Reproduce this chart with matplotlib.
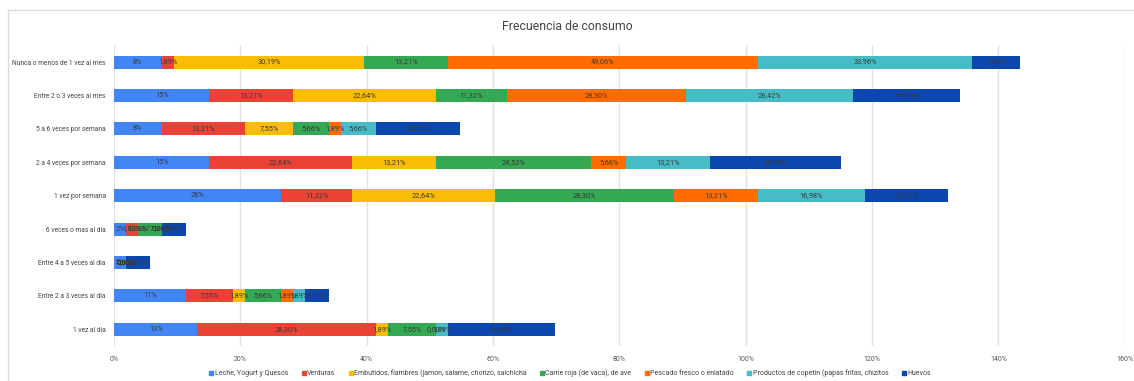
import numpy as np
import matplotlib.pyplot as plt
from matplotlib.lines import Line2D

plt.rcParams['font.family'] = ['Roboto', 'DejaVu Sans']

# categories, top to bottom
categorias = [
    "Nunca o menos de 1 vez al mes",
    "Entre 2 o 3 veces al mes",
    "5 a 6 veces por semana",
    "2 a 4 veces por semana",
    "1 vez por semana",
    "6 veces o mas al dia",
    "Entre 4 a 5 veces al dia",
    "Entre 2 a 3 veces al dia",
    "1 vez al dia",
]

series = [
    "Leche, Yogurt y Quesos",
    "Verduras",
    "Embutidos, fiambres (jamon, salame, chorizo, salchicha",
    "Carne roja (de vaca), de ave",
    "Pescado fresco o enlatado",
    "Productos de copetin (papas fritas, chizitos",
    "Huevos",
]

leche      = [7.55, 15.09, 7.55, 15.09, 26.42, 1.89, 1.89, 11.32, 13.21]
verduras   = [1.89, 13.21, 13.21, 22.64, 11.32, 1.89, 0.00, 7.55, 28.30]
embutidos  = [30.19, 22.64, 7.55, 13.21, 22.64, 0.00, 0.00, 1.89, 1.89]
carne      = [13.21, 11.32, 5.66, 24.53, 28.30, 3.77, 0.00, 5.66, 7.55]
pescado    = [49.06, 28.30, 1.89, 5.66, 13.21, 0.00, 0.00, 1.89, 0.00]
copetin    = [33.96, 26.42, 5.66, 13.21, 16.98, 0.00, 0.00, 1.89, 1.89]
huevos     = [7.55, 16.98, 13.21, 20.75, 13.21, 3.77, 3.77, 3.77, 16.98]

valores = [leche, verduras, embutidos, carne, pescado, copetin, huevos]
colores = ['#4285F4', '#EA4335', '#FBBC04', '#34A853', '#FF6D01', '#46BDC6', '#0B47AE']

fig = plt.figure(figsize=(11.34, 3.81), dpi=100)
ax = fig.add_axes([114/1134, 35/381, 1010.7/1134, 300.6/381])

y = np.arange(len(categorias))
izq = np.zeros(len(categorias))
for i, (vals, col) in enumerate(zip(valores, colores)):
    vals = np.array(vals)
    ax.barh(y, vals, left=izq, height=0.39, color=col, zorder=3)
    for yy, l, v in zip(y, izq, vals):
        if i == 0:
            txt = f"{v:.0f}%"
        else:
            txt = f"{v:.2f}%".replace('.', ',')
        ax.text(l + v / 2, yy, txt, ha='center', va='center',
                fontsize=5.3, color='#3a3a3a', zorder=4)
    izq += vals

ax.set_ylim(len(categorias) - 0.5, -0.5)
ax.set_xlim(0, 160)
ax.set_yticks(y)
ax.set_yticklabels(categorias, fontsize=4.8, color='#444444')
ax.set_xticks(np.arange(0, 161, 20))
ax.set_xticklabels([f"{t}%" for t in range(0, 161, 20)], fontsize=5, color='#555555')
ax.tick_params(length=0, pad=6)
ax.tick_params(axis='x', pad=7)
ax.grid(axis='x', color='#e3e3e3', linewidth=1, zorder=0)
for s in ax.spines.values():
    s.set_visible(False)

fig.text(567/1134, 1 - 27/381, "Frecuencia de consumo", ha='center', va='center',
         fontsize=8.8, color='#444444')

# chart frame
fig.add_artist(Line2D([8/1134, 1.0], [1 - 10/381, 1 - 10/381], color='#dddddd', lw=1))
fig.add_artist(Line2D([8/1134, 8/1134], [0, 1 - 10/381], color='#dddddd', lw=1))

handles = [Line2D([], [], marker='s', linestyle='none', color=c, markersize=3) for c in colores]
fig.legend(handles, series, loc='center', bbox_to_anchor=(570/1134, 8/381), ncol=7,
           frameon=False, fontsize=5, handlelength=0.6, handletextpad=0.2,
           columnspacing=1.9, labelcolor='#444444')

fig.savefig('out.png', dpi=100)
